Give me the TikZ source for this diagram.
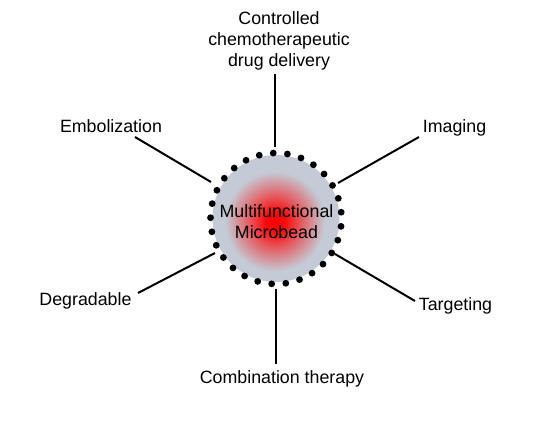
\documentclass[tikz,border=0pt]{standalone}
\usepackage{fontspec}
\setmainfont{Liberation Sans}
\usetikzlibrary{calc}
\definecolor{beadgray}{RGB}{196,203,214}
\pgfdeclareradialshading{bead}{\pgfpoint{0bp}{0bp}}{color(0bp)=(red); color(5bp)=(red!95!beadgray); color(13bp)=(red!55!beadgray); color(25bp)=(beadgray); color(50bp)=(beadgray)}
\tikzset{
  lbl/.style={font=\fontsize{17.8}{21}\selectfont, inner sep=0pt, text=black},
  conn/.style={line width=2pt, black},
  dotmark/.style={fill=black, draw=none}
}
\begin{document}
\begin{tikzpicture}[x=1pt,y=-1pt]
\useasboundingbox (0,0) rectangle (535,442);
\fill[white] (0,0) rectangle (535,442);
% bead
\coordinate (c) at (276,218.5);
\fill[beadgray] (c) circle (63.5);
\shade[shading=bead] (275,221.5) circle (50);
\foreach \k in {0,...,28}{
  \fill[dotmark] ($(c)+({93.8-12.4138*\k}:65.5)$) circle (3.4);
}
\node[lbl, align=center] (center) at (276.5,221.5) {Multifunctional\\Microbead};
% labels
\node[lbl, align=center] (top) at (279,41) {Controlled\\chemotherapeutic\\drug delivery};
\node[lbl, anchor=base] (emb) at (111,132) {Embolization};
\node[lbl, anchor=base] (img) at (454.5,132) {Imaging};
\node[lbl, anchor=base] (deg) at (85.5,305) {Degradable};
\node[lbl, anchor=base] (tar) at (455.5,310) {Targeting};
\node[lbl, anchor=base] (com) at (282,383) {Combination therapy};
% connector end points
\coordinate (t1) at (275,74);   \coordinate (t2) at (275,147);
\coordinate (e1) at (135,137);  \coordinate (e2) at (211,182);
\coordinate (i1) at (419,137);  \coordinate (i2) at (338,183);
\coordinate (d1) at (138,293);  \coordinate (d2) at (215,253);
\coordinate (g1) at (415,301);  \coordinate (g2) at (335,254);
\coordinate (b1) at (276,364);  \coordinate (b2) at (276,289);
\draw[conn] (t1) -- (t2);
\draw[conn] (e1) -- (e2);
\draw[conn] (i1) -- (i2);
\draw[conn] (d1) -- (d2);
\draw[conn] (g1) -- (g2);
\draw[conn] (b1) -- (b2);
\end{tikzpicture}
\end{document}
